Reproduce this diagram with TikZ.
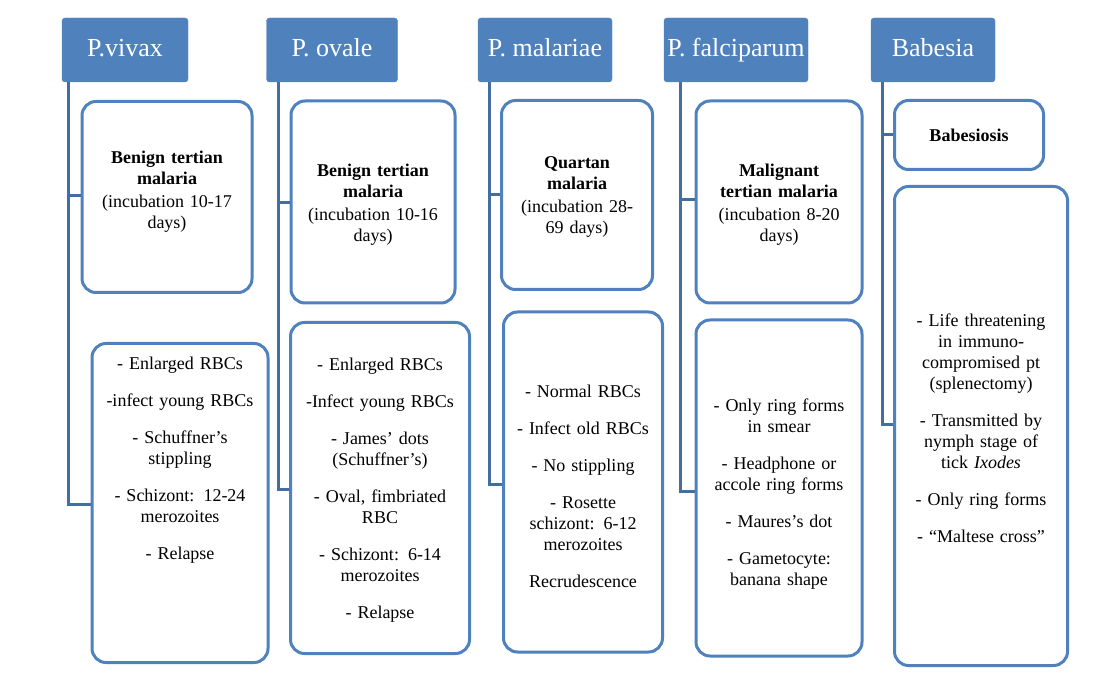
\documentclass[tikz,border=0pt]{standalone}
\usepackage{fontspec}
\setmainfont{Liberation Serif}
\definecolor{hdblue}{HTML}{4F81BD}
\tikzset{
  head/.style={draw=hdblue, fill=hdblue, rounded corners=3pt, text=white, font=\rmfamily\fontsize{26}{30}\selectfont, inner sep=0pt, text height=18pt, text depth=5pt},
  card/.style={draw=hdblue, line width=3pt, fill=white, rounded corners=14pt, inner sep=0pt},
  info/.style={align=center, font=\rmfamily\fontsize{18}{21}\selectfont, inner sep=0pt},
  stem/.style={draw=hdblue!85!black, line width=3pt},
}
\begin{document}
\begin{tikzpicture}[x=1pt,y=-1pt]
    \useasboundingbox (0,0) rectangle (1093,684);

    % P. vivax
    \node [head, minimum width=126pt, minimum height=64pt] (vx) at (125,50) {P.vivax};
    \node [card, minimum width=170pt, minimum height=191pt] (vx1) at (167,197) {};
    \node [info, text width=165pt] (vx1t) at (167,192) {\textbf{Benign tertian}\\ \textbf{malaria}\\[2pt] (incubation 10-17\\ days)};
    \node [card, minimum width=176pt, minimum height=319pt] (vx2) at (180,503) {};
    \node [info, text width=172pt] (vx2t) at (180,460) {- Enlarged RBCs\\[16pt] -infect young RBCs\\[16pt] - Schuffner's\\ stippling\\[16pt] - Schizont: 12-24\\ merozoites\\[16pt] - Relapse};
    \draw [stem] (68,82) -- (68,505) -- (vx2.west |- 0,505);
    \draw [stem] (68,196) -- (vx1.west |- 0,196);

    % P. ovale
    \node [head, minimum width=131pt, minimum height=64pt] (ov) at (332,50) {P. ovale};
    \node [card, minimum width=164pt, minimum height=202pt] (ov1) at (373,202) {};
    \node [info, text width=160pt] (ov1t) at (373,205) {\textbf{Benign tertian}\\ \textbf{malaria}\\[2pt] (incubation 10-16\\ days)};
    \node [card, minimum width=179pt, minimum height=331pt] (ov2) at (380,488) {};
    \node [info, text width=175pt] (ov2t) at (380,490) {- Enlarged RBCs\\[16pt] -Infect young RBCs\\[16pt] - James' dots\\ (Schuffner's)\\[16pt] - Oval, fimbriated\\ RBC\\[16pt] - Schizont: 6-14\\ merozoites\\[16pt] - Relapse};
    \draw [stem] (278,82) -- (278,490) -- (ov2.west |- 0,490);
    \draw [stem] (278,203) -- (ov1.west |- 0,203);

    % P. malariae
    \node [head, minimum width=134pt, minimum height=64pt] (ml) at (545,50) {P. malariae};
    \node [card, minimum width=151pt, minimum height=189pt] (ml1) at (577,195) {};
    \node [info, text width=148pt] (ml1t) at (577,197) {\textbf{Quartan}\\ \textbf{malaria}\\[2pt] (incubation 28-\\ 69 days)};
    \node [card, minimum width=159pt, minimum height=340pt] (ml2) at (583,482) {};
    \node [info, text width=156pt] (ml2t) at (583,486) {- Normal RBCs\\[16pt] - Infect old RBCs\\[16pt] - No stippling\\[16pt] - Rosette\\ schizont: 6-12\\ merozoites\\[16pt] Recrudescence};
    \draw [stem] (489,82) -- (489,485) -- (ml2.west |- 0,485);
    \draw [stem] (489,195) -- (ml1.west |- 0,195);

    % P. falciparum
    \node [head, minimum width=144pt, minimum height=64pt] (fc) at (736,50) {P. falciparum};
    \node [card, minimum width=166pt, minimum height=202pt] (fc1) at (779,202) {};
    \node [info, text width=162pt] (fc1t) at (779,205) {\textbf{Malignant}\\ \textbf{tertian malaria}\\[2pt] (incubation 8-20\\ days)};
    \node [card, minimum width=166pt, minimum height=336pt] (fc2) at (779,488) {};
    \node [info, text width=162pt] (fc2t) at (779,494) {- Only ring forms\\ in smear\\[16pt] - Headphone or\\ accole ring forms\\[16pt] - Maures's dot\\[16pt] - Gametocyte:\\ banana shape};
    \draw [stem] (680,82) -- (680,492) -- (fc2.west |- 0,492);
    \draw [stem] (680,200) -- (fc1.west |- 0,200);

    % Babesia
    \node [head, minimum width=124pt, minimum height=64pt] (bb) at (933,50) {Babesia};
    \node [card, minimum width=149pt, minimum height=69pt] (bb1) at (969,135) {};
    \node [info] (bb1t) at (969,135) {\textbf{Babesiosis}};
    \node [card, minimum width=173pt, minimum height=479pt] (bb2) at (981,426) {};
    \node [info, text width=169pt] (bb2t) at (981,428) {- Life threatening\\ in immuno-\\ compromised pt\\ (splenectomy)\\[16pt] - Transmitted by\\ nymph stage of\\ tick \textit{Ixodes}\\[16pt] - Only ring forms\\[16pt] - ``Maltese cross''};
    \draw [stem] (882,82) -- (882,425) -- (bb2.west |- 0,425);
    \draw [stem] (882,135) -- (bb1.west |- 0,135);
\end{tikzpicture}
\end{document}
